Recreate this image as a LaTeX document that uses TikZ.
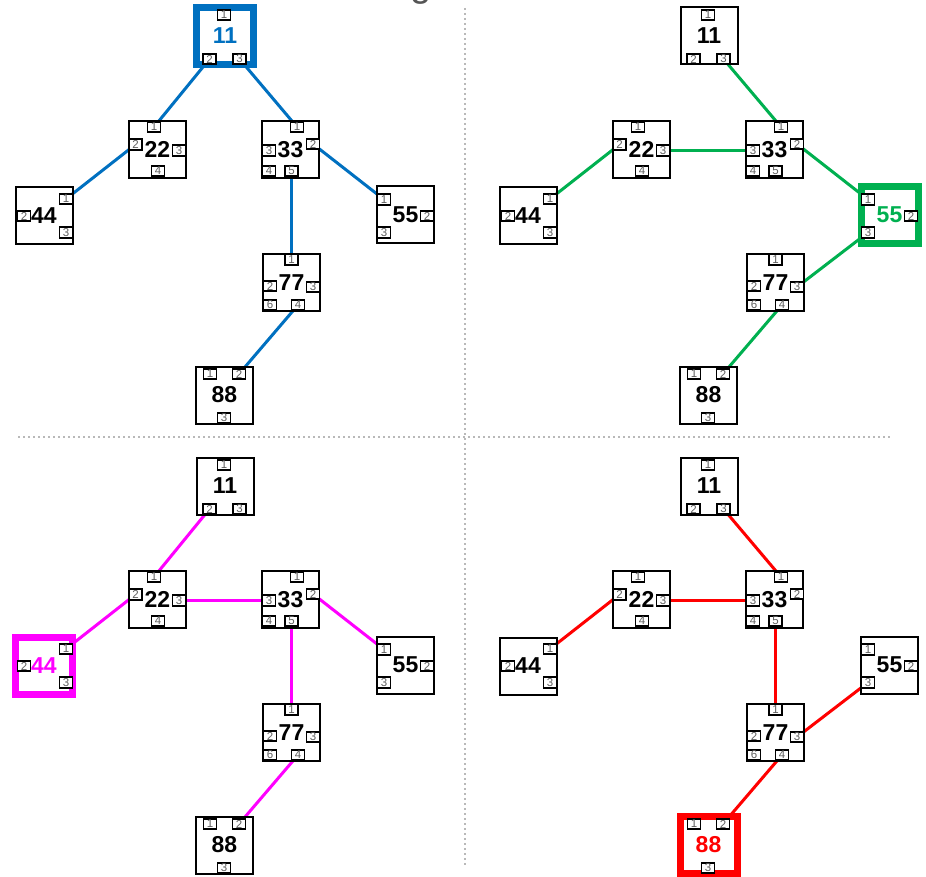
\documentclass[tikz,border=0pt]{standalone}
\usepackage{fontspec}
\setmainfont{Liberation Sans}
\definecolor{qblue}{RGB}{0,112,192}
\definecolor{qgreen}{RGB}{0,176,80}
\definecolor{qmag}{RGB}{255,0,255}
\definecolor{qred}{RGB}{255,0,0}
\definecolor{portgray}{RGB}{95,95,95}
\definecolor{divgray}{RGB}{185,185,185}
\definecolor{titlegray}{RGB}{85,85,85}
\pgfdeclarelayer{links}
\pgfsetlayers{links,main}
\tikzset{
  mainbox/.style={draw=black, line width=2, minimum size=57, inner sep=0,
    font=\fontsize{23}{23}\selectfont\bfseries},
  hlbox/.style={draw=#1, text=#1, line width=7},
  hl11/.style={}, hl22/.style={}, hl33/.style={}, hl44/.style={},
  hl55/.style={}, hl77/.style={}, hl88/.style={},
  port/.style={draw=black, line width=1.8, fill=white, inner sep=0,
    minimum width=13, minimum height=10.5, text=portgray,
    font=\fontsize{11.5}{11.5}\selectfont},
  link/.style={draw=#1, line width=3},
  divider/.style={draw=divgray, line width=2, dash pattern=on 2 off 3},
}
\newcommand\netlayout[1]{%
  \node[mainbox,hl11] (#1-11) at (225,36) {11};
  \node[port] (#1-11-1) at (224,15) {1};
  \node[port] (#1-11-2) at (209.5,59) {2};
  \node[port] (#1-11-3) at (239.5,59) {3};
  \node[mainbox,hl22] (#1-22) at (157.5,149.5) {22};
  \node[port] (#1-22-1) at (154,127) {1};
  \node[port] (#1-22-2) at (135.5,144.5) {2};
  \node[port] (#1-22-3) at (179,150.5) {3};
  \node[port] (#1-22-4) at (158,171) {4};
  \node[mainbox,hl33] (#1-33) at (290.5,149.5) {33};
  \node[port] (#1-33-1) at (297,127) {1};
  \node[port] (#1-33-2) at (313,144) {2};
  \node[port] (#1-33-3) at (269,150.5) {3};
  \node[port] (#1-33-4) at (269,171) {4};
  \node[port] (#1-33-5) at (291.5,171) {5};
  \node[mainbox,hl44] (#1-44) at (44,216) {44};
  \node[port] (#1-44-1) at (66,199) {1};
  \node[port] (#1-44-2) at (24,216) {2};
  \node[port] (#1-44-3) at (66,232.5) {3};
  \node[mainbox,hl55] (#1-55) at (405.5,215) {55};
  \node[port] (#1-55-1) at (384,199.5) {1};
  \node[port] (#1-55-2) at (427,216) {2};
  \node[port] (#1-55-3) at (384,232.5) {3};
  \node[mainbox,hl77] (#1-77) at (291.5,282.5) {77};
  \node[port] (#1-77-1) at (291.5,259.5) {1};
  \node[port] (#1-77-2) at (270,286) {2};
  \node[port] (#1-77-3) at (313,287) {3};
  \node[port] (#1-77-6) at (270,305) {6};
  \node[port] (#1-77-4) at (298,305) {4};
  \node[mainbox,hl88] (#1-88) at (224.5,395) {88};
  \node[port] (#1-88-1) at (210,374) {1};
  \node[port] (#1-88-2) at (239,374) {2};
  \node[port] (#1-88-3) at (224,418) {3};
}
\newcommand\lnk[3]{\draw[link=#1] (#2.center) -- (#3.center);}
\begin{document}
\begin{tikzpicture}[x=1pt,y=-1pt]
\useasboundingbox (0,0) rectangle (926,877);
\node[anchor=south, inner sep=0, text=titlegray, font=\fontsize{38}{38}\selectfont] (title) at (421,5) {g};
% dividers
\coordinate (vtop) at (464.5,8);
\coordinate (vbot) at (464.5,866);
\coordinate (hleft) at (18,437);
\coordinate (hright) at (890,437);
\draw[divider] (vtop) -- (vbot);
\draw[divider] (hleft) -- (hright);
% top-left: root 11
\begin{scope}[hl11/.style={hlbox=qblue}]
  \netlayout{a}
  \begin{pgfonlayer}{links}
    \lnk{qblue}{a-11-2}{a-22-1}
    \lnk{qblue}{a-11-3}{a-33-1}
    \lnk{qblue}{a-22-2}{a-44-1}
    \lnk{qblue}{a-33-2}{a-55-1}
    \lnk{qblue}{a-33-5}{a-77-1}
    \lnk{qblue}{a-77-4}{a-88-2}
  \end{pgfonlayer}
\end{scope}
% top-right: root 55
\begin{scope}[shift={(484,0)}, hl55/.style={hlbox=qgreen}]
  \netlayout{b}
  \begin{pgfonlayer}{links}
    \lnk{qgreen}{b-11-3}{b-33-1}
    \lnk{qgreen}{b-22-3}{b-33-3}
    \lnk{qgreen}{b-22-2}{b-44-1}
    \lnk{qgreen}{b-33-2}{b-55-1}
    \lnk{qgreen}{b-55-3}{b-77-3}
    \lnk{qgreen}{b-77-4}{b-88-2}
  \end{pgfonlayer}
\end{scope}
% bottom-left: root 44
\begin{scope}[shift={(0,450)}, hl44/.style={hlbox=qmag}]
  \netlayout{c}
  \begin{pgfonlayer}{links}
    \lnk{qmag}{c-11-2}{c-22-1}
    \lnk{qmag}{c-22-2}{c-44-1}
    \lnk{qmag}{c-22-3}{c-33-3}
    \lnk{qmag}{c-33-2}{c-55-1}
    \lnk{qmag}{c-33-5}{c-77-1}
    \lnk{qmag}{c-77-4}{c-88-2}
  \end{pgfonlayer}
\end{scope}
% bottom-right: root 88
\begin{scope}[shift={(484,450)}, hl88/.style={hlbox=qred}]
  \netlayout{d}
  \begin{pgfonlayer}{links}
    \lnk{qred}{d-11-3}{d-33-1}
    \lnk{qred}{d-22-3}{d-33-3}
    \lnk{qred}{d-22-2}{d-44-1}
    \lnk{qred}{d-33-5}{d-77-1}
    \lnk{qred}{d-55-3}{d-77-3}
    \lnk{qred}{d-77-4}{d-88-2}
  \end{pgfonlayer}
\end{scope}
\end{tikzpicture}
\end{document}
